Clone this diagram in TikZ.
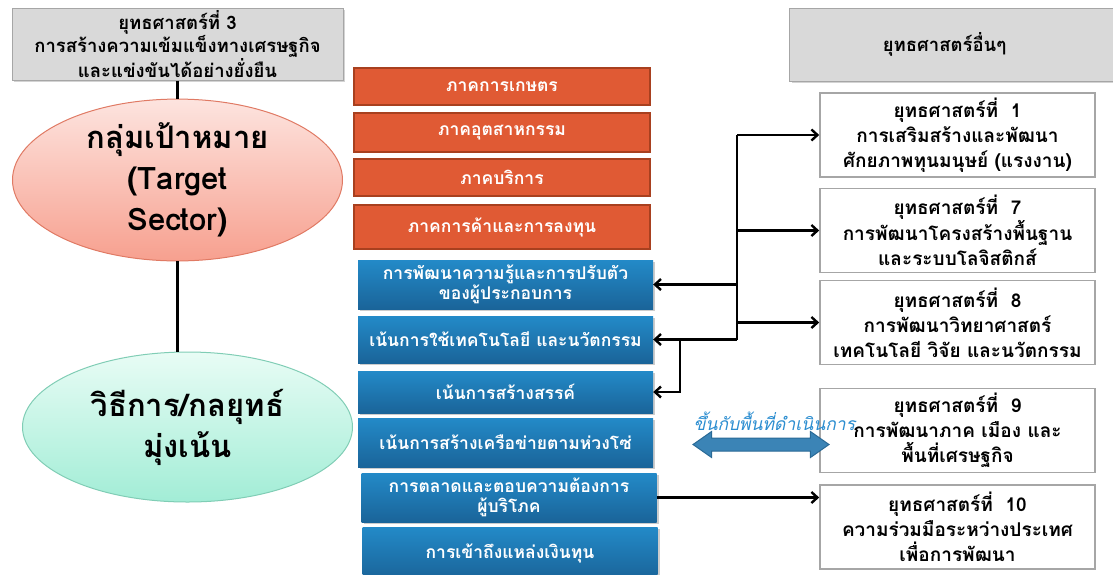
\documentclass[tikz,border=0pt]{standalone}
\usepackage{fontspec}
\setmainfont[Script=Thai,BoldFont={Loma Bold},ItalicFont={Loma Oblique},BoldItalicFont={Loma Bold Oblique}]{Loma}
\usetikzlibrary{positioning,shadows,shapes.geometric,shapes.arrows,arrows.meta}

\definecolor{sectorfill}{HTML}{E05A34}
\definecolor{sectorline}{HTML}{A8401F}
\definecolor{waytop}{HTML}{238AC8}
\definecolor{waybot}{HTML}{1A6499}
\definecolor{graybox}{HTML}{D9D9D9}
\definecolor{grayline}{HTML}{A6A6A6}
\definecolor{pinktop}{HTML}{FDE4DF}
\definecolor{pinkbot}{HTML}{F7A08F}
\definecolor{pinkline}{HTML}{E07A64}
\definecolor{minttop}{HTML}{E8FCF5}
\definecolor{mintbot}{HTML}{A2EDD6}
\definecolor{mintline}{HTML}{80CDB5}
\definecolor{arrowblue}{HTML}{3B84B6}
\definecolor{arrowline}{HTML}{2A6A96}
\definecolor{notecolor}{HTML}{2B8DD0}

\tikzset{
  headbox/.style={draw=grayline, fill=graybox, line width=1pt, inner sep=0pt,
    drop shadow={shadow xshift=2pt, shadow yshift=-2pt, opacity=0.35},
    align=center, font=\bfseries\fontsize{18.5}{23}\selectfont},
  bubble/.style={ellipse, inner sep=0pt, line width=1pt, align=center,
    font=\bfseries\fontsize{31}{41}\selectfont},
  sectorbox/.style={draw=sectorline, fill=sectorfill, line width=1.4pt, inner sep=0pt,
    minimum width=296pt, text=white, font=\bfseries\fontsize{17.5}{20}\selectfont},
  waybox/.style={top color=waytop, bottom color=waybot, draw=none, inner sep=0pt,
    drop shadow={shadow xshift=2pt, shadow yshift=-2pt, opacity=0.4},
    minimum width=295pt, text=white, align=center, font=\bfseries\fontsize{17.5}{20}\selectfont},
  stratbox/.style={draw=grayline, fill=white, line width=1.6pt, inner sep=0pt,
    minimum width=275pt, minimum height=84pt, align=center,
    font=\bfseries\fontsize{19}{25}\selectfont},
  wire/.style={line width=2.4pt},
  link/.style={line width=2.4pt, -{Straight Barb[length=6pt,width=11pt]}}
}

\begin{document}
\begin{tikzpicture}[x=1pt, y=-1pt]
  \useasboundingbox (0,0) rectangle (1113,574);

  % left column
  \node[headbox, minimum width=331pt, minimum height=72pt] (Strat3) at (177.5,44)
    {ยุทธศาสตร์ที่ 3\\การสร้างความเข้มแข็งทางเศรษฐกิจ\\และแข่งขันได้อย่างยั่งยืน};
  \node[bubble, draw=pinkline, top color=pinktop, bottom color=pinkbot,
    minimum width=330pt, minimum height=152pt] (TargetSector) at (177.5,180)
    {กลุ่มเป้าหมาย\\(Target\\Sector)};
  \node[bubble, draw=mintline, top color=minttop, bottom color=mintbot,
    minimum width=330pt, minimum height=150pt] (Approach) at (187.5,427)
    {วิธีการ/กลยุทธ์\\มุ่งเน้น};
  \draw[wire] (Strat3.south) -- (TargetSector.north);
  \draw[wire] (TargetSector.south) -- (TargetSector.south |- Approach.north);

  % target sectors
  \node[sectorbox, minimum height=37pt] (Agri) at (502,86.5) {ภาคการเกษตร};
  \node[sectorbox, minimum height=39pt] (Industry) at (502,132.5) {ภาคอุตสาหกรรม};
  \node[sectorbox, minimum height=37pt] (Service) at (502,177.5) {ภาคบริการ};
  \node[sectorbox, minimum height=44pt] (Trade) at (502,227) {ภาคการค้าและการลงทุน};

  % approaches
  \node[waybox, minimum height=49pt] (Knowhow) at (505.5,284.5)
    {การพัฒนาความรู้และการปรับตัว\\ของผู้ประกอบการ};
  \node[waybox, minimum height=47pt] (TechInno) at (505.5,339.5)
    {เน้นการใช้เทคโนโลยี และนวัตกรรม};
  \node[waybox, minimum height=42pt] (Creative) at (505.5,392) {เน้นการสร้างสรรค์};
  \node[waybox, minimum height=49pt] (Network) at (505.5,442.5)
    {เน้นการสร้างเครือข่ายตามห่วงโซ่};
  \node[waybox, minimum height=49pt] (Market) at (509,497.5)
    {การตลาดและตอบความต้องการ\\ผู้บริโภค};
  \node[waybox, minimum height=52pt] (Funding) at (510,553) {การเข้าถึงแหล่งเงินทุน};

  % other strategies
  \node[headbox, minimum width=340pt, minimum height=73pt, anchor=west] (OtherStrat) at (789,44.5)
    {\hspace*{-30pt}ยุทธศาสตร์อื่นๆ};
  \node[stratbox] (Strat1) at (957.5,135)
    {ยุทธศาสตร์ที่~ 1\\การเสริมสร้างและพัฒนา\\ศักยภาพทุนมนุษย์ (แรงงาน)};
  \node[stratbox] (Strat7) at (957.5,230.5)
    {ยุทธศาสตร์ที่~ 7\\การพัฒนาโครงสร้างพื้นฐาน\\และระบบโลจิสติกส์};
  \node[stratbox] (Strat8) at (957.5,322.5)
    {ยุทธศาสตร์ที่~ 8\\การพัฒนาวิทยาศาสตร์\\เทคโนโลยี วิจัย และนวัตกรรม};
  \node[stratbox] (Strat9) at (957.5,430.5)
    {ยุทธศาสตร์ที่~ 9\\การพัฒนาภาค เมือง และ\\พื้นที่เศรษฐกิจ};
  \node[stratbox] (Strat10) at (957.5,527)
    {ยุทธศาสตร์ที่~ 10\\ความร่วมมือระหว่างประเทศ\\เพื่อการพัฒนา};

  % links
  \coordinate (Trunk) at (737,0);
  \coordinate (Branch) at (680,0);
  \draw[wire] (Trunk |- Strat1.west) -- (Trunk |- TechInno.east);
  \draw[link] (Trunk |- Strat1.west) -- (Strat1.west);
  \draw[link] (Trunk |- Strat7.west) -- (Strat7.west);
  \draw[link] (Trunk |- Strat8.west) -- (Strat8.west);
  \draw[link] (Trunk |- Knowhow.east) -- (Knowhow.east);
  \draw[link] (Trunk |- TechInno.east) -- (TechInno.east);
  \draw[link] (Branch |- TechInno.east) -- (Branch |- Creative.east) -- (Creative.east);
  \draw[link] (Market.east) -- (Market.east -| Strat10.west);

  \node[double arrow, draw=arrowline, fill=arrowblue, line width=1pt, inner sep=0pt,
    inner ysep=6pt, minimum height=136pt, double arrow head extend=6.5pt,
    double arrow tip angle=70] (Depends) at (761,444.5) {};
  \node[anchor=west, text=notecolor, font=\itshape\fontsize{17.5}{20}\selectfont] (DependsNote)
    at (690,421) {ขึ้นกับพื้นที่ดำเนินการ};
\end{tikzpicture}
\end{document}
